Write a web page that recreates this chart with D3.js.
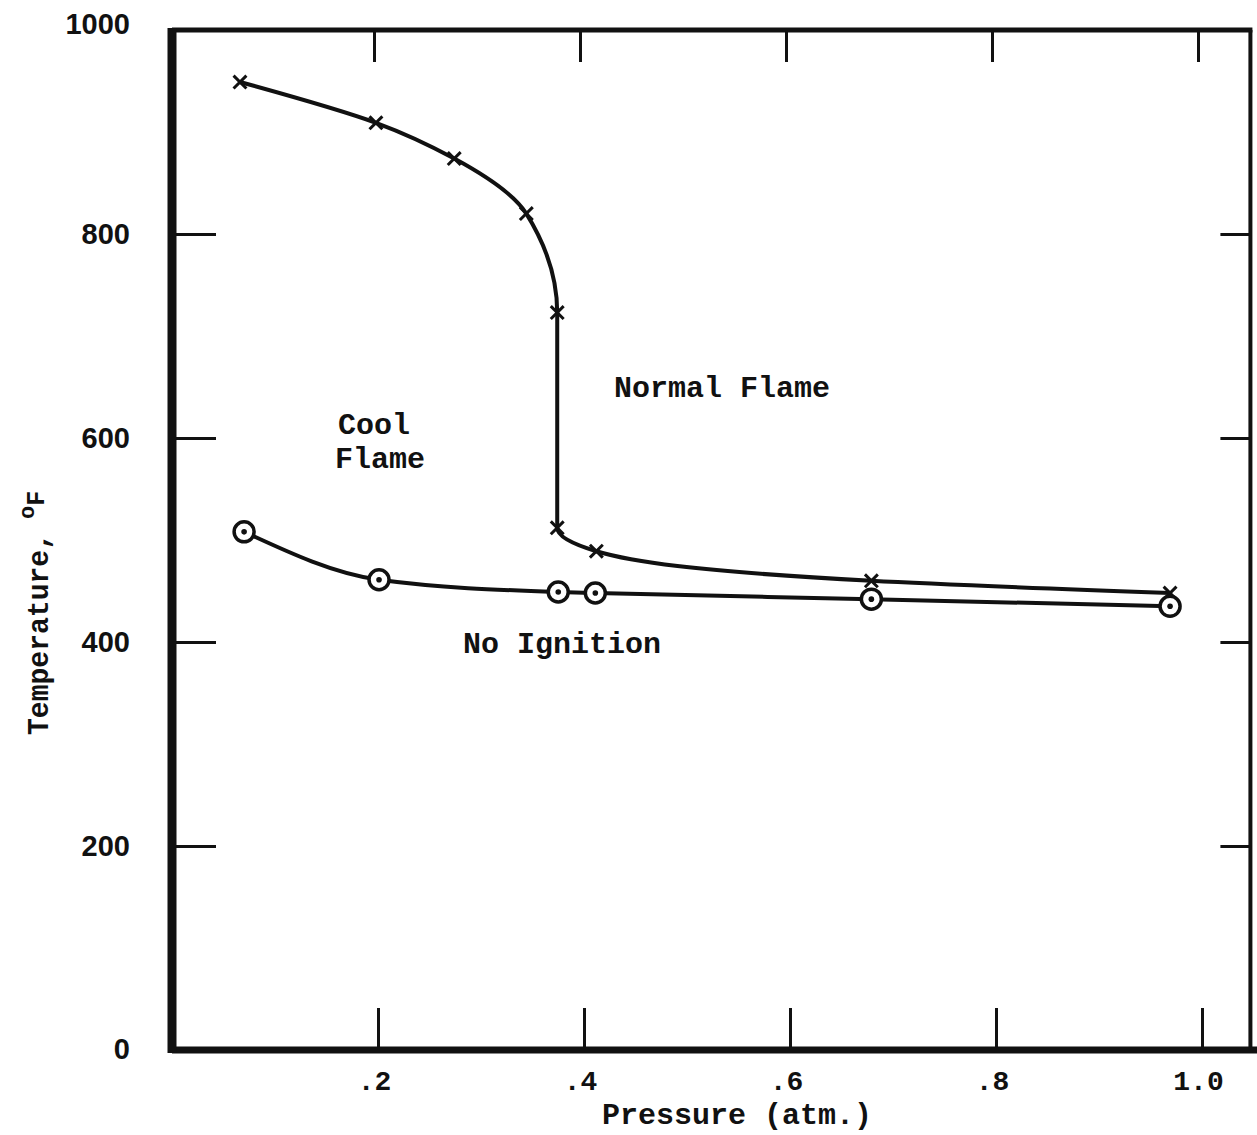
<!DOCTYPE html>
<html>
<head>
<meta charset="utf-8">
<script src="https://cdn.jsdelivr.net/npm/d3@7"></script>
<style>
  body { margin: 0; background: #fff; }
  svg { display: block; }
</style>
</head>
<body>
<div id="chart"></div>
<script>
// normal flame boundary (x marks)
let normalP = [0.066, 0.198, 0.274, 0.344, 0.374, 0.374, 0.412, 0.679, 0.969];
let normalT = [949, 909, 874, 820, 723, 512, 489, 460, 448];
// cool flame boundary (circled points)
let coolP = [0.070, 0.201, 0.375, 0.411, 0.679, 0.969];
let coolT = [508, 461, 449, 448, 442, 435];

let xTicks = [0.2, 0.4, 0.6, 0.8, 1.0];
let xTickLabels = [".2", ".4", ".6", ".8", "1.0"];
let yTicks = [0, 200, 400, 600, 800, 1000];

let W = 1257, H = 1135;
let typeFont = "'Liberation Mono', monospace";

let svg = d3.select('#chart').append('svg')
    .attr('width', W)
    .attr('height', H);

svg.append('rect').attr('width', W).attr('height', H).attr('fill', '#fff');

let x = d3.scaleLinear().domain([0, 1]).range([172, 1202]);
let y = d3.scaleLinear().domain([0, 1000]).range([1050, 30]);
let xRight = x(1.047);

// bottom axis: inward ticks, labels below
let bottomAx = svg.append('g')
    .attr('transform', 'translate(0,' + y(0) + ')')
    .call(d3.axisBottom(x).tickValues(xTicks).tickSize(-42).tickPadding(20)
        .tickFormat(function (d, i) { return xTickLabels[i]; }));
bottomAx.select('.domain').remove();
bottomAx.selectAll('line').attr('stroke', '#111').attr('stroke-width', 3);
bottomAx.selectAll('text')
    .attr('font-family', typeFont).attr('font-weight', 'bold')
    .attr('font-size', 28).attr('fill', '#111').attr('dx', -4);

// top ticks
let topAx = svg.append('g')
    .attr('transform', 'translate(-4,' + y(1000) + ')')
    .call(d3.axisTop(x).tickValues(xTicks).tickSize(-32).tickFormat(''));
topAx.select('.domain').remove();
topAx.selectAll('line').attr('stroke', '#111').attr('stroke-width', 3);

// left axis
let leftAx = svg.append('g')
    .attr('transform', 'translate(' + x(0) + ',0)')
    .call(d3.axisLeft(y).tickValues(yTicks).tickSize(-44).tickPadding(42).tickFormat(d3.format('d')));
leftAx.select('.domain').remove();
leftAx.selectAll('line').attr('stroke', '#111').attr('stroke-width', 3);
leftAx.selectAll('text')
    .attr('font-family', "'Liberation Sans', sans-serif").attr('font-weight', 'bold')
    .attr('font-size', 29).attr('fill', '#111')
    .attr('dy', function (d) { return d == 1000 ? '0.12em' : (d == 0 ? '0.28em' : '0.32em'); });

// right ticks
let rightAx = svg.append('g')
    .attr('transform', 'translate(' + xRight + ',0)')
    .call(d3.axisRight(y).tickValues([200, 400, 600, 800]).tickSize(-30).tickFormat(''));
rightAx.select('.domain').remove();
rightAx.selectAll('line').attr('stroke', '#111').attr('stroke-width', 3);

// frame
svg.append('line').attr('x1', x(0)).attr('x2', xRight + 2).attr('y1', y(1000)).attr('y2', y(1000))
    .attr('stroke', '#111').attr('stroke-width', 5);
svg.append('line').attr('x1', xRight).attr('x2', xRight).attr('y1', y(1000)).attr('y2', y(0))
    .attr('stroke', '#111').attr('stroke-width', 4);
svg.append('line').attr('x1', x(0)).attr('x2', W).attr('y1', y(0)).attr('y2', y(0))
    .attr('stroke', '#111').attr('stroke-width', 7);
svg.append('line').attr('x1', x(0)).attr('x2', x(0)).attr('y1', y(1000) - 2).attr('y2', y(0) + 3)
    .attr('stroke', '#111').attr('stroke-width', 9);

// curves
let normalPts = normalP.map(function (p, i) { return [x(p), y(normalT[i])]; });
let coolPts = coolP.map(function (p, i) { return [x(p), y(coolT[i])]; });

svg.append('path')
    .attr('d', d3.line().curve(d3.curveMonotoneY)(normalPts))
    .attr('fill', 'none').attr('stroke', '#111').attr('stroke-width', 4);

svg.append('path')
    .attr('d', d3.line().curve(d3.curveMonotoneX)(coolPts))
    .attr('fill', 'none').attr('stroke', '#111').attr('stroke-width', 4);

// x markers
svg.selectAll('path.xmark')
    .data(normalPts)
    .enter()
    .append('path')
    .attr('class', 'xmark')
    .attr('transform', function (d) { return 'translate(' + d[0] + ',' + d[1] + ')'; })
    .attr('d', d3.symbol().type(d3.symbolTimes).size(110))
    .attr('fill', 'none').attr('stroke', '#111').attr('stroke-width', 3);

// circle markers
let circ = svg.selectAll('g.cmark')
    .data(coolPts)
    .enter()
    .append('g')
    .attr('class', 'cmark')
    .attr('transform', function (d) { return 'translate(' + d[0] + ',' + d[1] + ')'; });
circ.append('circle').attr('r', 10).attr('fill', '#fff').attr('stroke', '#111').attr('stroke-width', 3.5);
circ.append('circle').attr('r', 2.8).attr('fill', '#111');

// region labels
let labels = [
    { t: 'Normal Flame', cx: 722, cy: 397 },
    { t: 'Cool', cx: 374, cy: 434 },
    { t: 'Flame', cx: 380, cy: 468 },
    { t: 'No Ignition', cx: 562, cy: 653 }
];
svg.selectAll('text.region')
    .data(labels)
    .enter()
    .append('text')
    .attr('class', 'region')
    .attr('x', function (d) { return d.cx; })
    .attr('y', function (d) { return d.cy; })
    .attr('text-anchor', 'middle')
    .attr('font-family', typeFont).attr('font-weight', 'bold')
    .attr('font-size', 30).attr('fill', '#111')
    .text(function (d) { return d.t; });

// axis titles
svg.append('text')
    .attr('x', 737).attr('y', 1124)
    .attr('text-anchor', 'middle')
    .attr('font-family', typeFont).attr('font-weight', 'bold')
    .attr('font-size', 30).attr('fill', '#111')
    .text('Pressure (atm.)');

let yt = svg.append('text')
    .attr('transform', 'translate(48,735) rotate(-90)')
    .attr('font-family', typeFont).attr('font-weight', 'bold')
    .attr('font-size', 29).attr('fill', '#111');
yt.append('tspan').attr('textLength', 202).attr('lengthAdjust', 'spacingAndGlyphs').text('Temperature,');
yt.append('tspan').attr('font-size', 22).attr('dx', 14).attr('dy', -14).text('o');
yt.append('tspan').attr('font-size', 25).attr('dy', 10).text('F');
</script>
</body>
</html>
